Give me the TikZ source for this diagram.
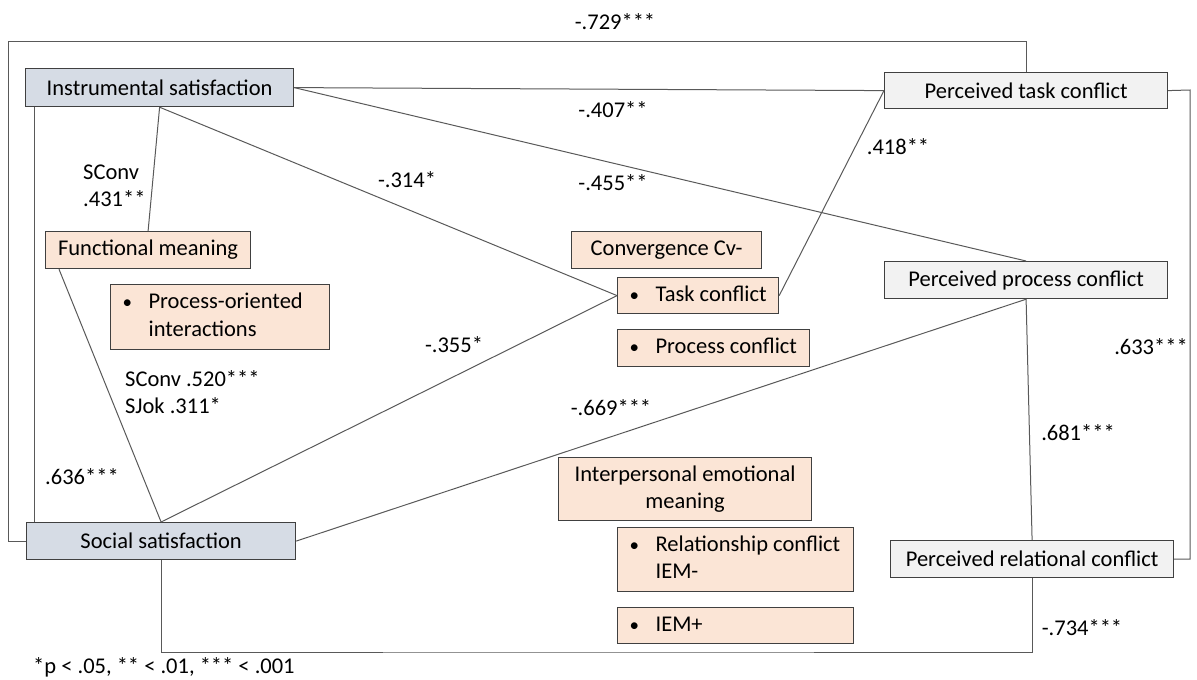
\documentclass[tikz,border=0pt]{standalone}
\usepackage{fontspec}
\setmainfont{Carlito}
\definecolor{satfill}{HTML}{D6DCE5}
\definecolor{perfill}{HTML}{F2F2F2}
\definecolor{mngfill}{HTML}{FBE5D6}
\definecolor{boxline}{HTML}{404040}
\definecolor{pathline}{HTML}{595959}
\tikzset{
  box/.style={draw=boxline,line width=1.2pt,anchor=north west,inner sep=0pt,align=center},
  satbox/.style={box,fill=satfill},
  perbox/.style={box,fill=perfill},
  mngbox/.style={box,fill=mngfill},
  bulbox/.style={mngbox,inner xsep=12pt},
  link/.style={draw=pathline,line width=1pt},
  coef/.style={inner sep=0pt}
}
\newcommand{\bul}[2]{\makebox[#1][l]{\begin{tabular}{@{}p{26pt}@{}l@{}}{\fontsize{19}{19}\selectfont\textbullet}&#2\end{tabular}}}
\begin{document}
\begin{tikzpicture}[x=1pt,y=-1pt,font=\fontsize{22.5}{27.5}\selectfont]
\useasboundingbox (0,0) rectangle (1197,680);
\node[satbox,minimum width=268pt,minimum height=38pt] (inst) at (25,68) {Instrumental satisfaction};
\node[satbox,minimum width=269pt,minimum height=37pt] (social) at (26,522) {Social satisfaction};
\node[perbox,minimum width=283pt,minimum height=36pt] (ptask) at (884,72) {Perceived task conflict};
\node[perbox,minimum width=283pt,minimum height=37pt] (pproc) at (884,261) {Perceived process conflict};
\node[perbox,minimum width=283pt,minimum height=37pt] (prel) at (890,540) {Perceived relational conflict};
\node[mngbox,minimum width=205pt,minimum height=37pt] (func) at (45,231) {Functional meaning};
\node[bulbox,minimum height=65pt] (procint) at (110,284) {\bul{195pt}{Process-oriented\\&interactions}};
\node[mngbox,minimum width=190pt,minimum height=37pt] (conv) at (571,231) {Convergence Cv-};
\node[bulbox,minimum height=36pt] (taskc) at (617,277) {\bul{137pt}{Task conflict}};
\node[bulbox,minimum height=37pt] (procc) at (617,329) {\bul{168pt}{Process conflict}};
\node[mngbox,minimum width=253pt,minimum height=63pt] (iem) at (558,457) {Interpersonal emotional\\meaning};
\node[bulbox,minimum height=64pt] (relc) at (617,527) {\bul{212pt}{Relationship conflict\\&IEM-}};
\node[bulbox,minimum height=36pt] (iemp) at (617,607) {\bul{212pt}{IEM+}};
\coordinate (olc) at (8,41);
\coordinate (rc) at (1190,90);
\coordinate (bc) at (600,652);
\draw[link] (ptask.north) |- (olc) |- (social.west);
\draw[link] ([xshift=9pt]inst.south west) -- ([xshift=8pt]social.north west);
\draw[link] (inst.east) -- (ptask.west);
\draw[link] (inst.east) -- (pproc.north);
\draw[link] (inst.south) -- (func.north);
\draw[link] (inst.south) -- (taskc.west);
\draw[link] ([xshift=14pt]func.south west) -- (social.north);
\draw[link] (social.north) -- (taskc.west);
\draw[link] (taskc.east) -- (ptask.west);
\draw[link] (social.east) -- (pproc.south);
\draw[link] (pproc.south) -- (prel.north);
\draw[link] (ptask.east) -- (rc) |- (prel.east);
\draw[link] (social.south) |- (bc) -| (prel.south);
\foreach \lx/\ly/\lb/\ln in {615/22/-.729***/c1,613/110/-.407**/c2,613/183/-.455**/c3,407/180/-.314*/c4,898/147/.418**/c5,454/345/-.355*/c6,611/408/-.669***/c7,82/477/.636***/c8,1151/347/.633***/c9,1078/433/.681***/c10,1082/628/-.734***/c11}{\node[coef] (\ln) at (\lx,\ly) {\lb};}
\node[coef,anchor=west,align=left] (c12) at (83,186) {SConv\\.431**};
\node[coef,anchor=west,align=left] (c13) at (125,392) {SConv .520***\\SJok .311*};
\node[coef,anchor=west] (note) at (33,667) {*p < .05, ** < .01, *** < .001};
\end{tikzpicture}
\end{document}
